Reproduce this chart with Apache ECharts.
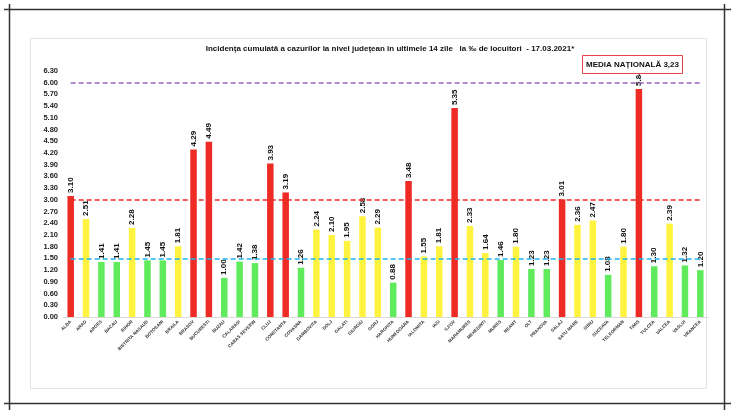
<!DOCTYPE html>
<html><head><meta charset="utf-8">
<script src="https://cdn.jsdelivr.net/npm/echarts@6/dist/echarts.min.js"></script>
<style>html,body{margin:0;padding:0;background:#fff}#c{width:735px;height:413px}</style>
</head><body><div id="c"></div>
<script>
const categories = ["ALBA","ARAD","ARGES","BACAU","BIHOR","BISTRITA NASAUD","BOTOSANI","BRAILA","BRASOV","BUCURESTI","BUZAU","CALARASI","CARAS SEVERIN","CLUJ","CONSTANTA","COVASNA","DAMBOVITA","DOLJ","GALATI","GIURGIU","GORJ","HARGHITA","HUNEDOARA","IALOMITA","IASI","ILFOV","MARAMURES","MEHEDINTI","MURES","NEAMT","OLT","PRAHOVA","SALAJ","SATU MARE","SIBIU","SUCEAVA","TELEORMAN","TIMIS","TULCEA","VALCEA","VASLUI","VRANCEA"];
const values = [3.10,2.51,1.41,1.41,2.28,1.45,1.45,1.81,4.29,4.49,1.00,1.42,1.38,3.93,3.19,1.26,2.24,2.10,1.95,2.58,2.29,0.88,3.48,1.55,1.81,5.35,2.33,1.64,1.46,1.80,1.23,1.23,3.01,2.36,2.47,1.08,1.80,5.84,1.30,2.39,1.32,1.20];
const thresholds = [1.5, 3.0, 6.0];
const yTicks = {min: 0, max: 6.3, interval: 0.3};
const titleText = "Incidența cumulată a cazurilor la nivel județean în ultimele 14 zile   la ‰ de locuitori  - 17.03.2021*";
const mediaText = "MEDIA NAȚIONALĂ 3,23";

const RED = '#EE2B25', YEL = '#FFF33F', GRN = '#5FEB5C';
function colorFor(v){ return v > 3 ? RED : (v >= 1.5 ? YEL : GRN); }
const lastIdx = categories.length - 1;
function hLine(y, color){
  return [{xAxis:0, yAxis:y, lineStyle:{color:color,type:[5,3],width:1.5}}, {xAxis:lastIdx, yAxis:y}];
}

const chart = echarts.init(document.getElementById('c'), null, {renderer:'canvas'});
chart.setOption({
  animation:false,
  backgroundColor:'#fff',
  title:{text:titleText,left:385,textAlign:'center',top:40,
    textStyle:{fontSize:8,fontWeight:'bold',color:'#111',fontFamily:'Liberation Sans, Arial'}},
  grid:{left:63,right:27,top:71,bottom:96},
  xAxis:{type:'category',data:categories,
    axisLine:{lineStyle:{color:'#d9d9d9'}},axisTick:{show:false},
    axisLabel:{interval:0,rotate:45,fontSize:4.5,fontWeight:'bold',color:'#333',margin:4,fontFamily:'Liberation Sans, Arial'}},
  yAxis:{type:'value',min:yTicks.min,max:yTicks.max,interval:yTicks.interval,
    splitLine:{show:false},axisLine:{show:false},axisTick:{show:false},
    axisLabel:{formatter:v=>v.toFixed(2),fontSize:7.5,fontWeight:'bold',color:'#222',margin:5,fontFamily:'Liberation Sans, Arial'}},
  series:[{type:'bar',barWidth:6.5,
    data:values.map(v=>({value:v,itemStyle:{color:colorFor(v)}})),
    label:{show:true,position:'top',rotate:90,align:'left',verticalAlign:'middle',distance:3,
      formatter:p=>p.value.toFixed(2),fontSize:8,fontWeight:'bold',color:'#111',fontFamily:'Liberation Sans, Arial'},
    markLine:{symbol:'none',silent:true,label:{show:false},
      data:[
        hLine(thresholds[2],'#9B62C8'),
        hLine(thresholds[1],'#EE2B25'),
        hLine(thresholds[0],'#1BB5F0')
      ]}
  }],
  graphic:[
    {type:'rect',shape:{x:30.5,y:38.5,width:676,height:350},style:{fill:'none',stroke:'#e3e3e3',lineWidth:1},z:-1},
    {type:'line',shape:{x1:4,y1:9.5,x2:731,y2:9.5},style:{stroke:'#333',lineWidth:1.5}},
    {type:'line',shape:{x1:4,y1:403.5,x2:731,y2:403.5},style:{stroke:'#333',lineWidth:1.5}},
    {type:'line',shape:{x1:9.5,y1:4,x2:9.5,y2:410},style:{stroke:'#333',lineWidth:1.5}},
    {type:'line',shape:{x1:724.5,y1:4,x2:724.5,y2:410},style:{stroke:'#333',lineWidth:1.5}},
    {type:'rect',shape:{x:582.5,y:55.5,width:100,height:18},style:{fill:'#fff',stroke:'#E8454A',lineWidth:1},z:10},
    {type:'text',x:632.5,y:64.5,style:{text:mediaText,align:'center',verticalAlign:'middle',fontSize:8,fontWeight:'bold',fill:'#111',fontFamily:'Liberation Sans, Arial'},z:11}
  ]
});
</script></body></html>
